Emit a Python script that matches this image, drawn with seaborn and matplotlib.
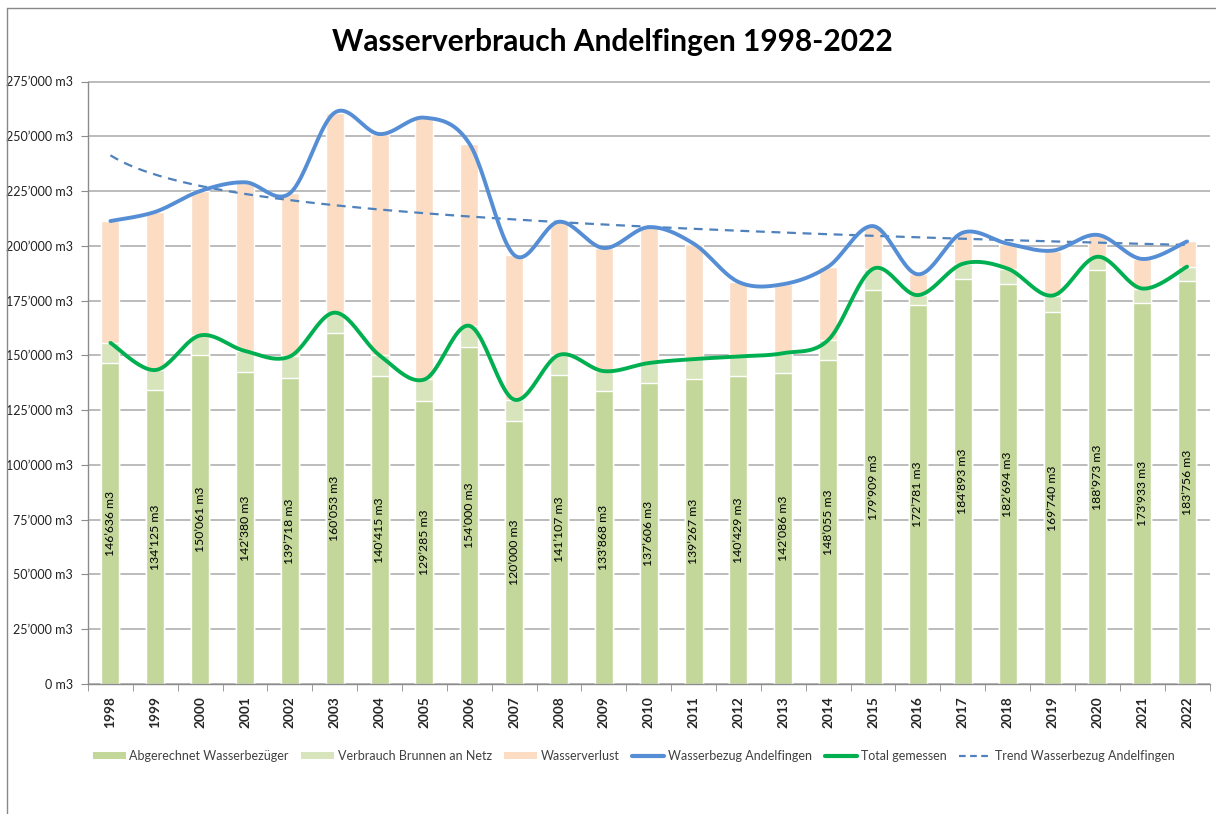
import numpy as np
import matplotlib
matplotlib.use("Agg")
import matplotlib.pyplot as plt
import seaborn as sns
from matplotlib.patches import Patch
from matplotlib.lines import Line2D
from matplotlib.ticker import FuncFormatter

# ---------------- data ----------------
years = [str(y) for y in range(1998, 2023)]
abgerechnet = [146636, 134125, 150061, 142380, 139718, 160053, 140415, 129285, 154000, 120000,
               141107, 133868, 137606, 139267, 140429, 142086, 148055, 179909, 172781, 184893,
               182694, 169740, 188973, 173933, 183756]
total_gemessen = [155700, 143300, 159100, 152000, 149500, 169500, 150000, 139000, 163500, 129800,
                  150200, 142800, 146500, 148300, 149500, 151000, 157000, 189500, 177500, 191800,
                  189600, 177300, 195000, 180500, 190500]
wasserbezug = [211300, 215500, 225000, 229000, 224000, 260800, 251000, 258500, 246700, 195800,
               211000, 199000, 208500, 201000, 183500, 182500, 190500, 209000, 187000, 206000,
               201000, 197800, 205000, 194000, 202000]
brunnen = [t - a for t, a in zip(total_gemessen, abgerechnet)]
verlust = [w - t for w, t in zip(wasserbezug, total_gemessen)]

title = "Wasserverbrauch Andelfingen 1998-2022"
legend_labels = ["Abgerechnet Wasserbezüger", "Verbrauch Brunnen an Netz", "Wasserverlust",
                 "Wasserbezug Andelfingen", "Total gemessen", "Trend Wasserbezug Andelfingen"]

C_ABG = "#C4D79B"
C_BRU = "#D8E4BC"
C_VER = "#FCDDC4"
C_BLUE = "#558ED5"
C_GREEN = "#00B050"
C_TREND = "#4F81BD"

FONT = ["Lato", "DejaVu Sans"]


def smooth(y, n=24):
    """Excel-style smoothed line (cubic Bezier through points)."""
    y = np.asarray(y, float)
    x = np.arange(len(y), dtype=float)
    P = np.column_stack([x, y])
    out = []
    for i in range(len(P) - 1):
        p0 = P[i]
        p3 = P[i + 1]
        pm = P[i - 1] if i > 0 else P[i]
        pp = P[i + 2] if i + 2 < len(P) else P[i + 1]
        c1 = p0 + (p3 - pm) / 6.0
        c2 = p3 - (pp - p0) / 6.0
        t = np.linspace(0, 1, n, endpoint=(i == len(P) - 2))[:, None]
        seg = (1 - t) ** 3 * p0 + 3 * (1 - t) ** 2 * t * c1 + 3 * (1 - t) * t ** 2 * c2 + t ** 3 * p3
        out.append(seg)
    out = np.vstack(out)
    return out[:, 0], out[:, 1]


sns.set_style("white")
plt.rcParams["font.family"] = FONT

fig = plt.figure(figsize=(12.16, 8.14), dpi=100)
ax = fig.add_axes([88 / 1216, 1 - 684 / 814, (1209.5 - 88) / 1216, (684 - 81.5) / 814])

# stacked bars drawn as cumulative layers
sns.barplot(x=years, y=wasserbezug, color=C_VER, saturation=1, width=0.4, ax=ax, zorder=2)
sns.barplot(x=years, y=total_gemessen, color=C_BRU, saturation=1, width=0.4, ax=ax, zorder=2)
sns.barplot(x=years, y=abgerechnet, color=C_ABG, saturation=1, width=0.4, ax=ax, zorder=2)

# lines
xs, ys = smooth(wasserbezug)
ax.plot(xs, ys, color=C_BLUE, lw=2.8, zorder=4, solid_capstyle="round")
xs, ys = smooth(total_gemessen)
ax.plot(xs, ys, color=C_GREEN, lw=2.8, zorder=5, solid_capstyle="round")

# logarithmic trend of Wasserbezug
xi = np.arange(1, len(wasserbezug) + 1)
b, a = np.polyfit(np.log(xi), wasserbezug, 1)
xt = np.linspace(1, len(wasserbezug), 200)
ax.plot(xt - 1, a + b * np.log(xt), color=C_TREND, lw=1.6, ls=(0, (4, 3)), zorder=3)

# bar labels
for i, v in enumerate(abgerechnet):
    ax.text(i, v / 2, f"{v:,}".replace(",", "\u2019") + " m3", rotation=90,
            ha="center", va="center", fontsize=8.8, color="#000000", zorder=6)

# axes formatting
ax.set_xlim(-0.5, len(years) - 0.5)
ax.set_ylim(0, 275000)
ax.set_yticks(np.arange(0, 275001, 25000))
ax.yaxis.set_major_formatter(FuncFormatter(lambda v, p: f"{int(v):,}".replace(",", "\u2019") + " m3"))
ax.grid(axis="y", color="#A9A9A9", lw=1.1, zorder=0)
ax.set_axisbelow(True)
for s in ["top", "right"]:
    ax.spines[s].set_visible(False)
for s in ["left", "bottom"]:
    ax.spines[s].set_color("#8C8C8C")
    ax.spines[s].set_linewidth(1.0)
ax.tick_params(axis="y", length=5, color="#8C8C8C", labelsize=9, labelcolor="#222222", pad=6, left=True)
ax.set_xticks(range(len(years)))
ax.set_xticklabels(years, rotation=90, fontsize=9.8, fontweight="bold")
ax.tick_params(axis="x", which="major", length=0, pad=9)
ax.set_xticks(np.arange(-0.5, len(years) - 0.4, 1), minor=True)
ax.tick_params(axis="x", which="minor", length=5, color="#8C8C8C", bottom=True)
ax.set_xlabel("")
ax.set_ylabel("")

# title
fig.text(612 / 1216, 1 - 42 / 814, title, ha="center", va="center", fontsize=21.5, fontweight="bold",
         color="#000000")

# legend
handles = [Patch(facecolor=C_ABG, edgecolor="none"), Patch(facecolor=C_BRU, edgecolor="none"),
           Patch(facecolor=C_VER, edgecolor="none"),
           Line2D([], [], color=C_BLUE, lw=3), Line2D([], [], color=C_GREEN, lw=3),
           Line2D([], [], color=C_TREND, lw=1.6, ls=(0, (3, 2)))]
fig.legend(handles, legend_labels, loc="center", bbox_to_anchor=(634 / 1216, 1 - 756 / 814), ncol=6,
           frameon=False, fontsize=9, handlelength=2.6, handleheight=0.5, handletextpad=0.3,
           columnspacing=1.0, labelcolor="#404040")

# outer chart border (top and left visible)
fig.add_artist(Line2D([7 / 1216, 7 / 1216], [0, 1 - 8 / 814], transform=fig.transFigure, color="#888888", lw=1))
fig.add_artist(Line2D([7 / 1216, 1], [1 - 8 / 814, 1 - 8 / 814], transform=fig.transFigure, color="#888888", lw=1))

fig.savefig("out.png", dpi=100)
